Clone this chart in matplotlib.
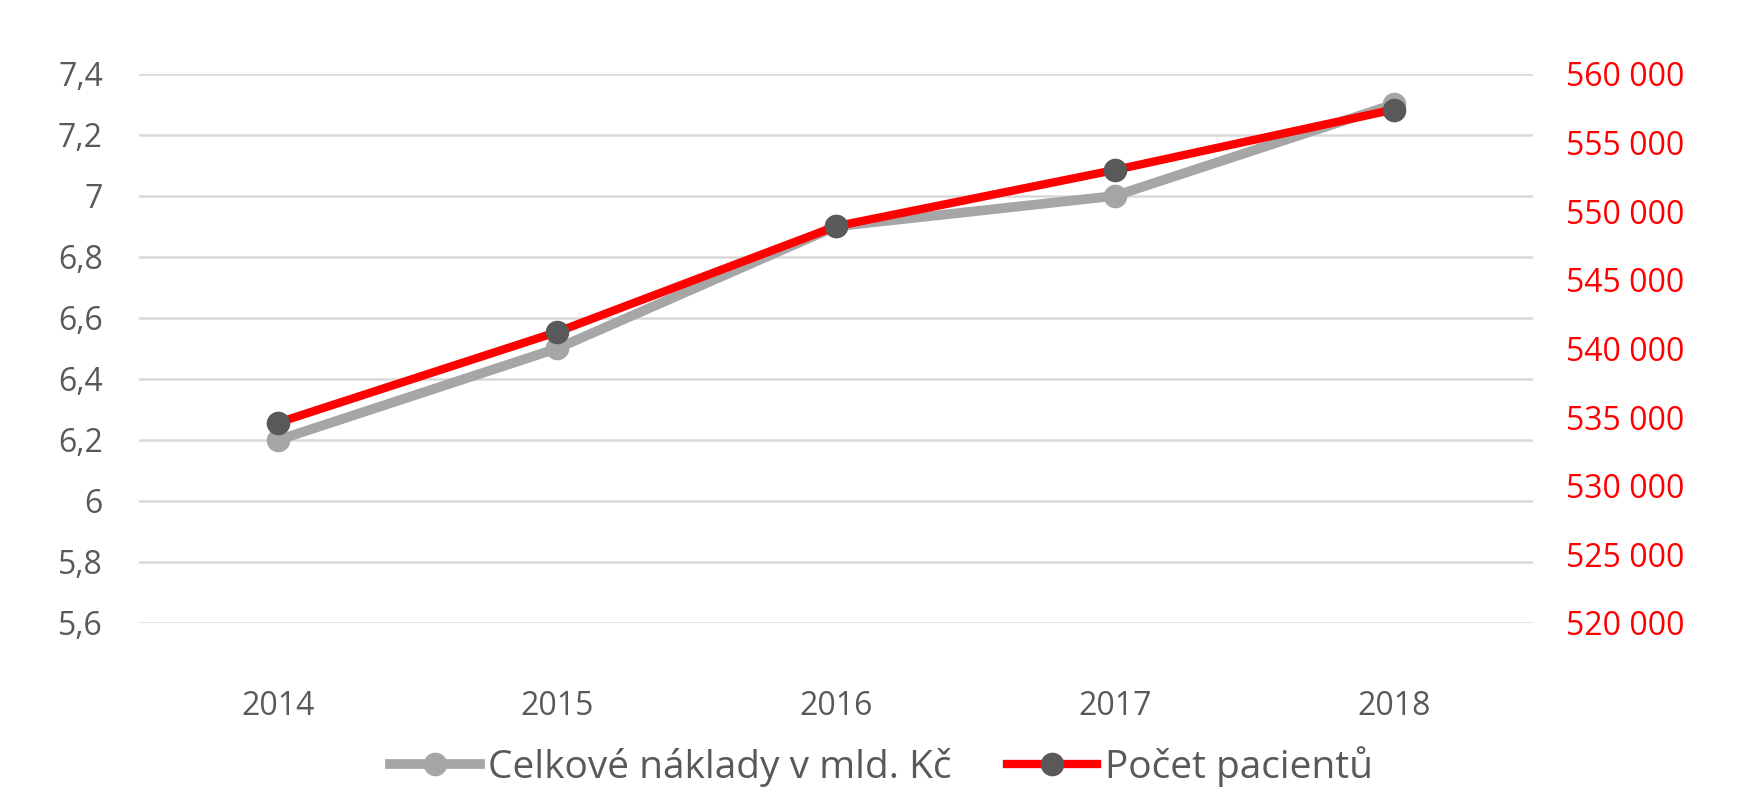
import matplotlib.pyplot as plt
from matplotlib.ticker import FuncFormatter

years = ["2014", "2015", "2016", "2017", "2018"]
naklady = [6.2, 6.5, 6.9, 7.0, 7.3]
pacienti = [534600, 541200, 548900, 553000, 557400]

left_ticks = [5.6, 5.8, 6.0, 6.2, 6.4, 6.6, 6.8, 7.0, 7.2, 7.4]
right_ticks = [520000, 525000, 530000, 535000, 540000, 545000, 550000, 555000, 560000]

plt.rcParams['font.family'] = ['Open Sans', 'DejaVu Sans']

GREY = '#a6a6a6'
DARK = '#595959'
RED = '#ff0000'


def cz_dec(v, pos=None):
    s = ('%.1f' % v).rstrip('0').rstrip('.')
    return s.replace('.', ',')


def cz_thousands(v, pos=None):
    return '{:,.0f}'.format(v).replace(',', ' ')


fig = plt.figure(figsize=(17.42, 8), dpi=100)
ax = fig.add_axes([0.0798, 0.2213, 0.8002, 0.6863])
ax2 = ax.twinx()

x = list(range(len(years)))
ax.plot(x, naklady, color=GREY, lw=7, marker='o', ms=16, zorder=3)
ax2.plot(x, pacienti, color=RED, lw=6, marker='o', ms=16,
         markerfacecolor=DARK, markeredgecolor=DARK, zorder=3)

ax.set_xlim(-0.5, 4.5)
ax.set_ylim(5.6, 7.4)
ax2.set_ylim(520000, 560000)
ax.set_yticks(left_ticks)
ax2.set_yticks(right_ticks)
ax.yaxis.set_major_formatter(FuncFormatter(cz_dec))
ax2.yaxis.set_major_formatter(FuncFormatter(cz_thousands))
ax.set_xticks(x)
ax.set_xticklabels(years)

ax.grid(axis='y', color='#d9d9d9', lw=1.8)
ax.set_axisbelow(True)
for a in (ax, ax2):
    for sp in a.spines.values():
        sp.set_visible(False)
ax.tick_params(axis='both', length=0, labelsize=23, labelcolor=DARK)
ax.tick_params(axis='y', pad=26)
ax.tick_params(axis='x', pad=48)
ax2.tick_params(axis='y', length=0, labelsize=23, labelcolor=RED, pad=24)

h1 = plt.Line2D([], [], color=GREY, lw=7, marker='o', ms=16)
h2 = plt.Line2D([], [], color=RED, lw=6, marker='o', ms=16,
                markerfacecolor=DARK, markeredgecolor=DARK)
fig.legend([h1, h2], ["Celkové náklady v mld. Kč", "Počet pacientů"],
           loc='center', bbox_to_anchor=(0.506, 0.042), ncol=2, frameon=False,
           fontsize=28, handlelength=2.3, handletextpad=0.2, columnspacing=1.45,
           labelcolor=DARK, borderpad=0)

fig.savefig('out.png', dpi=100)
